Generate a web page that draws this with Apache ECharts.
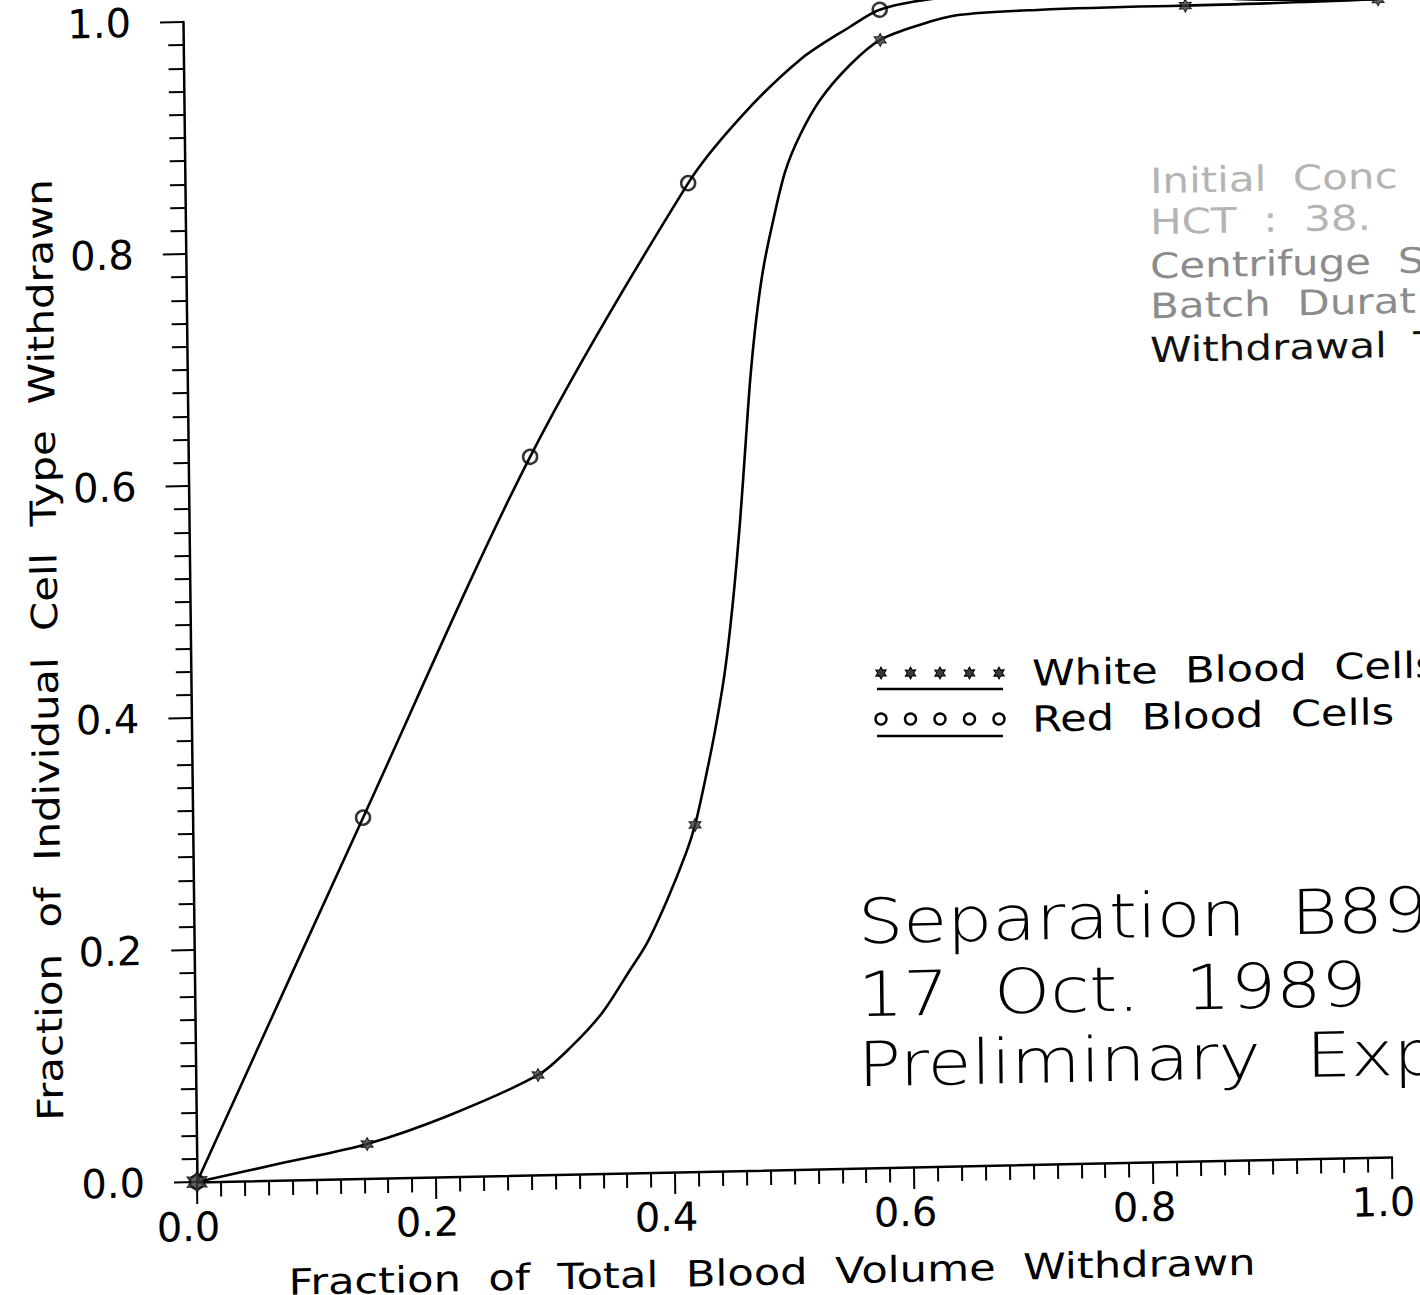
<!DOCTYPE html>
<html><head><meta charset="utf-8">
<script src="https://cdn.jsdelivr.net/npm/echarts@6/dist/echarts.min.js"></script>
<style>
html,body{margin:0;padding:0;background:#fff;width:1420px;height:1295px;overflow:hidden;}
#chart{position:absolute;left:0;top:0;width:1500px;height:1400px;transform-origin:197px 1182px;transform:matrix(1,-0.02092,0.01207,1,0,0);}
</style></head><body><div id="chart"></div>
<script>
// ---- sample points (markers) ----
const rbcSampleX = [0, 0.1426, 0.286, 0.421, 0.583];
const rbcSampleY = [0, 0.311, 0.619, 0.852, 0.998];
const wbcSampleX = [0, 0.1427, 0.2864, 0.4203, 0.5831, 0.8387, 1.0];
const wbcSampleY = [0, 0.0297, 0.0861, 0.2988, 0.972, 0.996, 0.998];

// ---- drawn fitted curves ----
const rbcCurveX = [0, 0.1426, 0.286, 0.421, 0.4651, 0.5159, 0.558, 0.583, 0.622, 0.70, 0.78, 0.88, 0.94, 1.0];
const rbcCurveY = [0, 0.311, 0.619, 0.852, 0.9074, 0.9564, 0.9839, 0.998, 1.0058, 1.012, 1.011, 1.001, 0.999, 0.998];
const wbcCurveX = [0, 0.0713, 0.1427, 0.2124, 0.2864, 0.3143, 0.3406, 0.3628, 0.379, 0.3962, 0.4125, 0.4203, 0.4292, 0.4381, 0.447, 0.4544, 0.4611, 0.466, 0.4709, 0.4765, 0.4828, 0.4909, 0.5022, 0.5152, 0.5323, 0.5577, 0.5831, 0.6167, 0.6486, 0.7148, 0.8144, 0.8387, 1.0];
const wbcCurveY = [0, 0.0148, 0.0297, 0.0532, 0.0861, 0.1097, 0.1384, 0.1724, 0.198, 0.2346, 0.2748, 0.2988, 0.3374, 0.3803, 0.4319, 0.492, 0.5609, 0.6211, 0.6814, 0.733, 0.776, 0.8147, 0.860, 0.8917, 0.9216, 0.9511, 0.972, 0.9844, 0.992, 0.995, 0.996, 0.996, 0.998];

// ---- texts ----
const seriesNames = ['White Blood Cells', 'Red Blood Cells'];
const xAxisTitle = 'Fraction  of  Total  Blood  Volume  Withdrawn';
const yAxisTitle = 'Fraction  of  Individual  Cell  Type  Withdrawn';
const noteLines = ['Initial  Conc', 'HCT  :  38.', 'Centrifuge  S', 'Batch  Durat', 'Withdrawal  T'];
const titleLines = ['Separation  B89', '17  Oct.  1989', 'Preliminary  Exp'];

const zip = (xs, ys) => xs.map((x, i) => [x, ys[i]]);

// page is a slightly skewed scan: convert reference page coords into chart-local coords
const MB = -0.02092, MC = 0.01207, DET = 1 - MB * MC, OX = 197, OY = 1182;
function P(x, y) { const u = x - OX, v = y - OY; return [OX + (u - MC * v) / DET, OY + (v - MB * u) / DET]; }

const STAR = 'path://M100,0L127.5,52.4L186.6,50L155,100L186.6,150L127.5,147.6L100,200L72.5,147.6L13.4,150L45,100L13.4,50L72.5,52.4Z';
const FONT = 'DejaVu Sans';

function txt(x, y, str, o) {
  const p = P(x, y);
  return { type: 'text', x: p[0], y: p[1], scaleX: o.sx || 1, rotation: o.rot || 0, silent: true, z: 10,
    style: { text: str, fontSize: o.size, fontFamily: FONT, fontWeight: o.weight || 'normal', fill: o.color || '#000',
      textAlign: o.align || 'left', textVerticalAlign: 'middle' } };
}
function starPts(cx, cy, r) {
  const pts = [];
  for (let k = 0; k < 12; k++) {
    const a = (-90 + 30 * k) * Math.PI / 180, rr = k % 2 ? r * 0.55 : r;
    pts.push([cx + rr * Math.cos(a), cy + rr * Math.sin(a)]);
  }
  return pts;
}

const graphics = [];
// legend
const legX = [881, 910.5, 940, 969.5, 999];
legX.forEach(x => {
  const a = P(x, 673);
  graphics.push({ type: 'polygon', shape: { points: starPts(a[0], a[1], 6) }, style: { fill: '#3a3a3a', stroke: '#000', lineWidth: 1 }, silent: true, z: 10 });
  const b = P(x, 719);
  graphics.push({ type: 'circle', shape: { cx: b[0], cy: b[1], r: 5.5 }, style: { fill: 'none', stroke: '#000', lineWidth: 2.4 }, silent: true, z: 10 });
});
[689, 736].forEach(y => {
  const a = P(877, y), b = P(1003, y);
  graphics.push({ type: 'line', shape: { x1: a[0], y1: a[1], x2: b[0], y2: b[1] }, style: { stroke: '#000', lineWidth: 2.5 }, silent: true, z: 10 });
});
graphics.push(txt(1032, 673, seriesNames[0].replace(/ /g, '  '), { size: 36, sx: 1.2 }));
graphics.push(txt(1032, 719, seriesNames[1].replace(/ /g, '  '), { size: 36, sx: 1.2 }));

// notes block
const noteY = [181, 222, 266, 306, 350];
const noteC = ['#b4b4b4', '#b4b4b4', '#8c8c8c', '#8c8c8c', '#111'];
noteLines.forEach((t, i) => graphics.push(txt(1150, noteY[i], t, { size: 35, sx: 1.2, color: noteC[i] })));

// big title block
const titleY = [922, 995, 1065];
titleLines.forEach((t, i) => graphics.push(txt(858, titleY[i], t, { size: 62, sx: 1.15, weight: 200 })));

// axis titles
graphics.push(txt(772, 1272, xAxisTitle, { size: 36, sx: 1.2, align: 'center' }));
graphics.push(txt(45, 650, yAxisTitle, { size: 36, sx: 1.16, align: 'center', rot: Math.PI / 2 }));

const axisCommon = (tickLen, margin, pad) => ({
  type: 'value', min: 0, max: 1, interval: 0.2,
  axisLine: { show: true, onZero: false, lineStyle: { color: '#000', width: 2.5 } },
  axisTick: { show: true, length: tickLen, lineStyle: { color: '#000', width: 2 } },
  minorTick: { show: true, splitNumber: 10, length: 15, lineStyle: { color: '#000', width: 2 } },
  splitLine: { show: false }, minorSplitLine: { show: false },
  axisLabel: { fontSize: 40, fontFamily: FONT, color: '#000', margin: margin, padding: pad, formatter: v => v.toFixed(1) }
});

const chart = echarts.init(document.getElementById('chart'), null, { renderer: 'svg' });
chart.setOption({
  animation: false,
  backgroundColor: '#fff',
  grid: { left: 197, top: 22, width: 1195, height: 1160, containLabel: false },
  xAxis: axisCommon(22, 25, [0, 18, 0, 0]),
  yAxis: axisCommon(23, 52, 0),
  series: [
    { type: 'line', name: seriesNames[1], data: zip(rbcCurveX, rbcCurveY), smooth: 0.3, showSymbol: false, clip: false, silent: true, lineStyle: { color: '#000', width: 2.6 }, z: 2 },
    { type: 'line', name: seriesNames[0], data: zip(wbcCurveX, wbcCurveY), smooth: 0.3, showSymbol: false, clip: false, silent: true, lineStyle: { color: '#000', width: 2.6 }, z: 2 },
    { type: 'scatter', name: seriesNames[1], data: zip(rbcSampleX, rbcSampleY), symbol: 'circle', symbolSize: 14, clip: false, silent: true, itemStyle: { color: 'rgba(255,255,255,0)', borderColor: '#000', borderWidth: 2.5 }, z: 3 },
    { type: 'scatter', name: seriesNames[0], data: zip(wbcSampleX, wbcSampleY), symbol: STAR, symbolSize: v => v[0] === 0 ? [20, 21] : [12, 13], clip: false, silent: true, itemStyle: { color: '#3a3a3a', borderColor: '#000', borderWidth: 1 }, z: 4 }
  ],
  graphic: graphics
});
</script></body></html>
